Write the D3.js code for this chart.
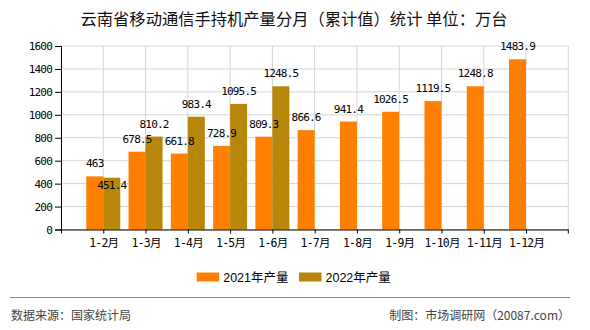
<!DOCTYPE html>
<html><head><meta charset="utf-8">
<script src="https://cdn.jsdelivr.net/npm/d3@7/dist/d3.min.js"></script>
<style>
html,body{margin:0;padding:0;background:#fff;}
svg{display:block;}
</style></head>
<body><svg id="c" width="590" height="330"></svg>
<script>
const categories = ["1-2月","1-3月","1-4月","1-5月","1-6月","1-7月","1-8月","1-9月","1-10月","1-11月","1-12月"];
const values2021 = [463, 678.5, 661.8, 728.9, 809.3, 866.6, 941.4, 1026.5, 1119.5, 1248.8, 1483.9];
const values2022 = [451.4, 810.2, 983.4, 1095.5, 1248.5, null, null, null, null, null, null];
const seriesNames = ["2021年产量", "2022年产量"];
const seriesColors = ["#ff8000", "#b8860b"];
const yTicks = [0, 200, 400, 600, 800, 1000, 1200, 1400, 1600];
const titleText = "云南省移动通信手持机产量分月（累计值）统计  单位：万台";
const sourceText = "数据来源：国家统计局";
const creditText = "制图：市场调研网（20087.com）";

const svg = d3.select("#c");
const L = 61, R = 568.3, T = 46, B = 229.5;
const monoFont = "'DejaVu Sans Mono','Noto Sans CJK SC',monospace";

const x = d3.scalePoint().domain(categories).range([L, R]).padding(1);
const y = d3.scaleLinear().domain([0, 1600]).range([B, T]);
const sub = d3.scaleBand().domain(seriesNames).range([-17, 17]).padding(0);

// title
svg.append("text").attr("x", 294).attr("y", 25).attr("text-anchor", "middle")
  .attr("font-family", "'Noto Sans CJK SC',sans-serif").attr("font-size", 16.3)
  .attr("fill", "#111").text(titleText);

// horizontal grid
svg.append("g").selectAll("line").data(yTicks).join("line")
  .attr("x1", L).attr("x2", R).attr("y1", d => y(d)).attr("y2", d => y(d))
  .attr("stroke", "#d4d4d4").attr("stroke-width", 1);
// vertical grid
svg.append("g").selectAll("line").data(categories).join("line")
  .attr("x1", d => x(d)).attr("x2", d => x(d)).attr("y1", T).attr("y2", B)
  .attr("stroke", "#d4d4d4").attr("stroke-width", 1);
svg.append("line").attr("x1", R).attr("x2", R).attr("y1", T).attr("y2", B)
  .attr("stroke", "#d4d4d4");

// bars
const rows = categories.map((c, i) => ({c, v: [values2021[i], values2022[i]]}));
const bars = [];
rows.forEach(r => r.v.forEach((v, k) => { if (v != null) bars.push({c: r.c, k, v}); }));
svg.append("g").selectAll("rect").data(bars).join("rect")
  .attr("x", d => x(d.c) + sub(seriesNames[d.k]))
  .attr("width", sub.bandwidth())
  .attr("y", d => y(d.v))
  .attr("height", d => B - y(d.v))
  .attr("fill", d => seriesColors[d.k]);

// y axis
const yAxis = svg.append("g").attr("transform", `translate(${L},0)`)
  .call(d3.axisLeft(y).tickValues(yTicks).tickSize(6).tickPadding(3).tickFormat(d3.format("d")));
yAxis.select(".domain").attr("stroke", "#000");
yAxis.selectAll(".tick line").attr("stroke", "#000");
yAxis.selectAll("text").attr("font-family", monoFont).attr("font-size", 11)
  .attr("letter-spacing", "-0.8px").attr("fill", "#000");

// x axis
const xAxis = svg.append("g").attr("transform", `translate(0,${B})`)
  .call(d3.axisBottom(x).tickSize(4).tickSizeOuter(0).tickPadding(5));
xAxis.select(".domain").attr("stroke", "#000").attr("d", `M${L},0.5H${R}`);
xAxis.selectAll(".tick line").attr("stroke", "#000");
xAxis.selectAll("text").attr("font-family", monoFont).attr("font-size", 11.5)
  .attr("letter-spacing", "-0.8px").attr("fill", "#000");
svg.append("line").attr("x1", R).attr("x2", R).attr("y1", B).attr("y2", B + 4).attr("stroke", "#000");
svg.append("line").attr("x1", L + 0.5).attr("x2", L + 0.5).attr("y1", B).attr("y2", B + 4).attr("stroke", "#000");

// value labels (with simple overlap avoidance)
const labelData = bars.map(d => {
  const cx = x(d.c) + sub(seriesNames[d.k]) + sub.bandwidth() / 2;
  let by = y(d.v) - 9;
  if (d.k === 1) {
    const other = values2021[categories.indexOf(d.c)];
    if (other != null && Math.abs(y(other) - y(d.v)) < 10) by = y(d.v) + 11.5;
  }
  return {cx, by, t: String(d.v)};
});
svg.append("g").selectAll("text").data(labelData).join("text")
  .attr("x", d => d.cx).attr("y", d => d.by).attr("text-anchor", "middle")
  .attr("font-family", monoFont).attr("font-size", 11).attr("letter-spacing", "-0.8px")
  .attr("fill", "#000").text(d => d.t);

// legend
const lg = svg.append("g");
const legendX = [196.7, 299];
seriesNames.forEach((n, k) => {
  lg.append("rect").attr("x", legendX[k]).attr("y", 272.5).attr("width", 22.5).attr("height", 9)
    .attr("fill", seriesColors[k]);
  lg.append("text").attr("x", legendX[k] + 26.5).attr("y", 281.5)
    .attr("font-family", "'Liberation Sans','Noto Sans CJK SC',sans-serif").attr("font-size", 12.5)
    .attr("fill", "#000").text(n);
});

// separator & footer
svg.append("line").attr("x1", 10).attr("x2", 570).attr("y1", 297.5).attr("y2", 297.5)
  .attr("stroke", "#888").attr("stroke-width", 1);
svg.append("text").attr("x", 11).attr("y", 320)
  .attr("font-family", "'Noto Sans CJK SC',sans-serif").attr("font-size", 12)
  .attr("fill", "#444").text(sourceText);
svg.append("text").attr("x", 570).attr("y", 320).attr("text-anchor", "end")
  .attr("font-family", "'Noto Sans CJK SC',sans-serif").attr("font-size", 12)
  .attr("fill", "#444").text(creditText);
</script></body></html>
